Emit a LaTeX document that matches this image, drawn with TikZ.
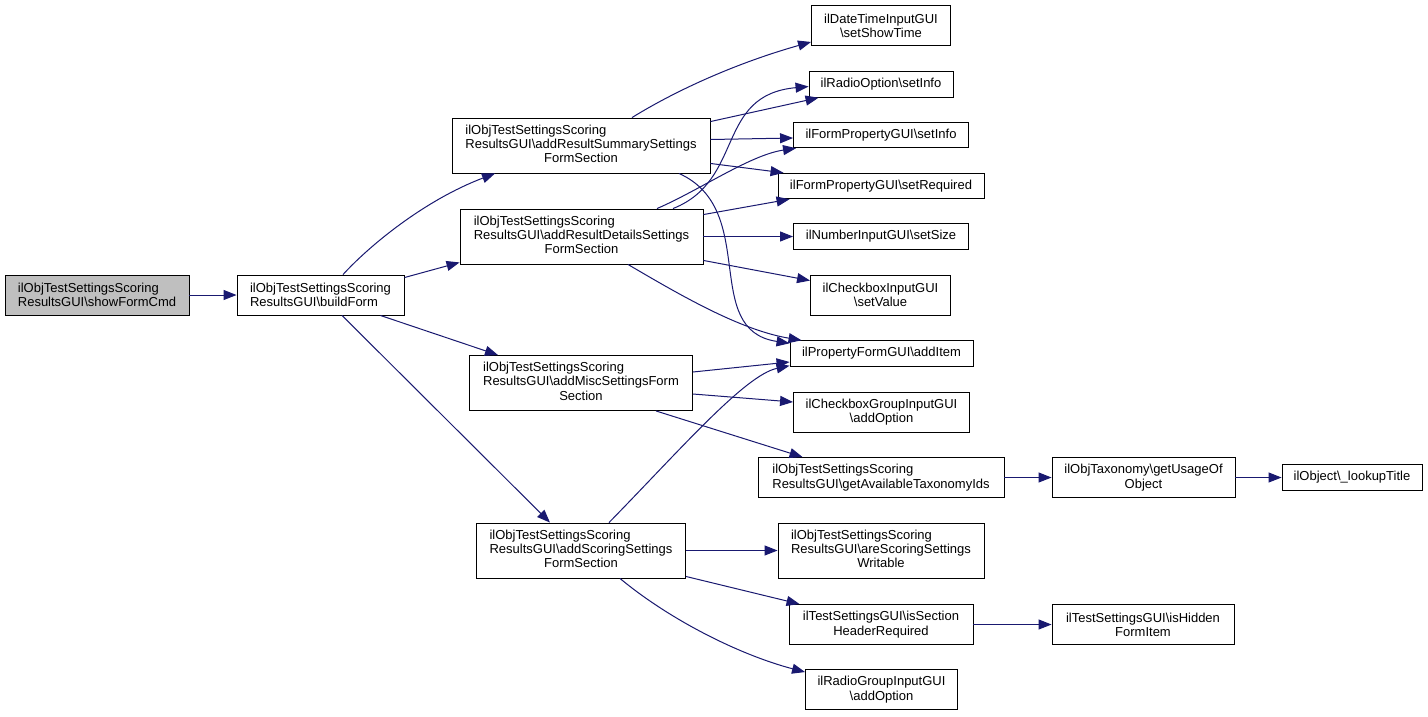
\documentclass[tikz,border=0pt]{standalone}
\usepackage{fontspec}
\setmainfont{Liberation Sans}
\usetikzlibrary{arrows.meta,calc}
\definecolor{edgeblue}{HTML}{191970}
\definecolor{fillgray}{HTML}{BFBFBF}
\newcommand{\bsl}{\textbackslash}
\newcommand{\tlab}[3]{\begin{tabular}{@{}l@{}}#1\\#2\\\multicolumn{1}{@{}c@{}}{#3}\end{tabular}}
\begin{document}
\begin{tikzpicture}[x=1pt,y=-1pt,
  box/.style={draw=black,fill=white,line width=0.9pt,inner sep=0pt,font=\fontsize{13}{14.3}\selectfont},
  edge/.style={draw=edgeblue,line width=1pt,-{Triangle[length=13pt,width=10pt]}}]
\useasboundingbox[fill=white] (0,0) rectangle (1428,716);

% nodes
\node[box,fill=fillgray,align=left,minimum width=184pt,minimum height=40pt] (A) at (97,295) {ilObjTestSettingsScoring\\ResultsGUI\bsl showFormCmd};
\node[box,align=left,minimum width=167pt,minimum height=40pt] (B) at (320.5,295) {ilObjTestSettingsScoring\\ResultsGUI\bsl buildForm};
\node[box,minimum width=258pt,minimum height=55pt] (C) at (581,145.5) {\tlab{ilObjTestSettingsScoring}{ResultsGUI\bsl addResultSummarySettings}{FormSection}};
\node[box,minimum width=243pt,minimum height=55pt] (D) at (581.5,236.5) {\tlab{ilObjTestSettingsScoring}{ResultsGUI\bsl addResultDetailsSettings}{FormSection}};
\node[box,minimum width=223pt,minimum height=55pt] (E) at (581,383) {\tlab{ilObjTestSettingsScoring}{ResultsGUI\bsl addMiscSettingsForm}{Section}};
\node[box,minimum width=209pt,minimum height=55pt] (F) at (581,550.5) {\tlab{ilObjTestSettingsScoring}{ResultsGUI\bsl addScoringSettings}{FormSection}};

\node[box,align=center,minimum width=139pt,minimum height=40pt] (G) at (881,25.5) {ilDateTimeInputGUI\\\bsl setShowTime};
\node[box,minimum width=144pt,minimum height=25.5pt] (H) at (881,84.5) {ilRadioOption\bsl setInfo};
\node[box,minimum width=175pt,minimum height=25.5pt] (I) at (881,135) {ilFormPropertyGUI\bsl setInfo};
\node[box,minimum width=206pt,minimum height=25.5pt] (J) at (881,186) {ilFormPropertyGUI\bsl setRequired};
\node[box,minimum width=175pt,minimum height=25.5pt] (K) at (881,236.5) {ilNumberInputGUI\bsl setSize};
\node[box,align=center,minimum width=140pt,minimum height=40pt] (L) at (880.5,295) {ilCheckboxInputGUI\\\bsl setValue};
\node[box,minimum width=183pt,minimum height=25.5pt] (M) at (881.5,353.5) {ilPropertyFormGUI\bsl addItem};
\node[box,align=center,minimum width=176pt,minimum height=40pt] (N) at (881.5,412) {ilCheckboxGroupInputGUI\\\bsl addOption};
\node[box,align=left,minimum width=246pt,minimum height=40pt] (O) at (881,477.5) {ilObjTestSettingsScoring\\ResultsGUI\bsl getAvailableTaxonomyIds};
\node[box,minimum width=206pt,minimum height=55pt] (R) at (881,550.5) {\tlab{ilObjTestSettingsScoring}{ResultsGUI\bsl areScoringSettings}{Writable}};
\node[box,align=center,minimum width=184pt,minimum height=40pt] (S) at (881,624.5) {ilTestSettingsGUI\bsl isSection\\HeaderRequired};
\node[box,align=center,minimum width=152pt,minimum height=40pt] (U) at (881.5,689.5) {ilRadioGroupInputGUI\\\bsl addOption};

\node[box,align=center,minimum width=183pt,minimum height=40pt] (P) at (1143.5,477.5) {ilObjTaxonomy\bsl getUsageOf\\Object};
\node[box,align=center,minimum width=182pt,minimum height=40pt] (T) at (1143,624.5) {ilTestSettingsGUI\bsl isHidden\\FormItem};
\node[box,minimum width=140pt,minimum height=26pt] (Q) at (1352,477.5) {ilObject\bsl\_lookupTitle};

% edges
\draw[edge] (A) -- (B);
\draw[edge] ($(B.north)+(22.5,0)$) .. controls (370,245) and (425,200) .. ($(C.south)+(-86,0)$);
\draw[edge] ($(B.north east)+(0,3)$) -- ($(D.south west)+(0,-2)$);
\draw[edge] ($(B.south east)+(-24,0)$) -- ($(E.north)+(-83,0)$);
\draw[edge] ($(B.south)+(21.5,0)$) -- ($(F.north)+(-31,0)$);

\draw[edge] ($(C.north)+(51,0)$) .. controls (680,88) and (740,62) .. ($(G.south west)+(0,-4)$);
\draw[edge] ($(C.north east)+(0,4)$) -- ($(H.south west)+(10,0)$);
\draw[edge] ($(C.east)+(0,-6)$) -- ($(I.west)+(0,3)$);
\draw[edge] ($(C.south east)+(0,-10)$) -- ($(J.north west)+(6,0)$);
\draw[edge] ($(C.south)+(98,0)$) .. controls (760,210) and (700,330) .. ($(M.north west)+(0,3)$);

\draw[edge] ($(D.north)+(91.5,0)$) .. controls (745,180) and (715,95) .. ($(H.west)+(0,2)$);
\draw[edge] ($(D.north)+(75.5,0)$) .. controls (700,190) and (750,155) .. ($(I.south west)+(3,0)$);
\draw[edge] ($(D.north east)+(0,6)$) -- ($(J.south west)+(12,0)$);
\draw[edge] (D) -- (K);
\draw[edge] ($(D.south east)+(0,-4)$) -- ($(L.north west)+(0,6)$);
\draw[edge] ($(D.south)+(46.5,0)$) .. controls (680,295) and (740,330) .. ($(M.north west)+(12,0)$);

\draw[edge] ($(E.east)+(0,-11)$) -- ($(M.west)+(0,8.5)$);
\draw[edge] ($(E.east)+(0,11)$) -- ($(N.west)+(0,-10)$);
\draw[edge] ($(E.south)+(75,0)$) -- ($(O.north west)+(45,0)$);

\draw[edge] ($(F.north)+(28,0)$) .. controls (680,450) and (745,375) .. ($(M.south west)+(0,-1)$);
\draw[edge] (F) -- (R);
\draw[edge] ($(F.south east)+(0,-2)$) -- ($(S.north west)+(11,0)$);
\draw[edge] ($(F.south)+(39,0)$) .. controls (670,620) and (740,655) .. ($(U.north west)+(0,3)$);

\draw[edge] (O) -- (P);
\draw[edge] (P) -- (Q);
\draw[edge] (S) -- (T);
\end{tikzpicture}
\end{document}
